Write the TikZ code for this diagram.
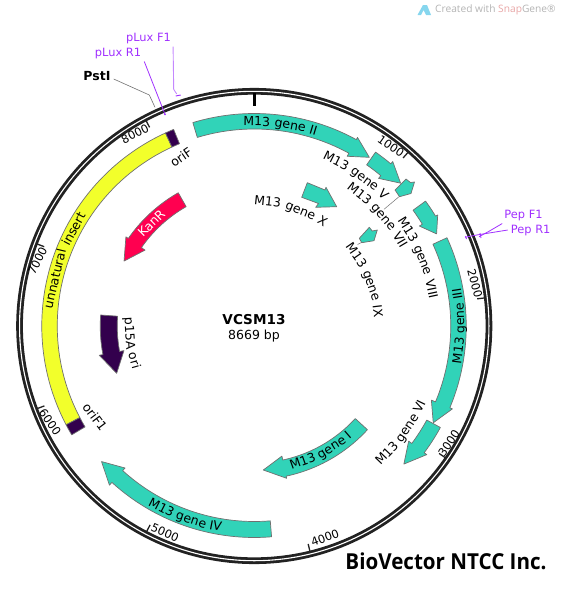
\documentclass[tikz,border=0pt]{standalone}
\usepackage{fontspec}
\setmainfont{DejaVu Sans}
\newfontfamily\bvfont{Open Sans}
\definecolor{teal1}{HTML}{31D3B8}
\definecolor{yell1}{HTML}{F2FF2B}
\definecolor{purp1}{HTML}{33004D}
\definecolor{kan1}{HTML}{FF0050}
\definecolor{ringc}{HTML}{222222}
\definecolor{outl}{HTML}{707070}
\definecolor{prim}{HTML}{A030FF}
\definecolor{priml}{HTML}{C488FF}
\definecolor{sgg}{HTML}{B4B4B4}
\definecolor{sgr}{HTML}{E8A6A6}
\definecolor{sgb}{HTML}{86D6EE}
\newcommand\lbl{\fontsize{12.5}{14}\selectfont}
\newcommand\smlbl{\fontsize{11.4}{13}\selectfont}
\tikzset{
  feat/.style={draw=outl,line width=0.7pt,line join=round},
  ticklbl/.style={inner sep=0pt,font=\smlbl,text=black},
  primlbl/.style={inner sep=1pt,font=\smlbl,text=prim},
  arcw/.style={inner sep=0pt,anchor=base,font=\lbl},
}
% style, a0, aN, aTip, rInner, rOuter, headInner, headOuter, rTip
\newcommand\farrow[9]{\path[feat,#1] plot[domain=#2:#3,samples=40] ({254.25+#6*sin(\x)},{326-#6*cos(\x)})
  -- ({254.25+#8*sin(#3)},{326-#8*cos(#3)})
  -- ({254.25+#9*sin(#4)},{326-#9*cos(#4)})
  -- ({254.25+#7*sin(#3)},{326-#7*cos(#3)})
  -- plot[domain=#3:#2,samples=40] ({254.25+#5*sin(\x)},{326-#5*cos(\x)}) -- cycle;}
% style, a0, a1, rInner, rOuter
\newcommand\fband[5]{\path[feat,#1] plot[domain=#2:#3,samples=60] ({254.25+#5*sin(\x)},{326-#5*cos(\x)})
  -- plot[domain=#3:#2,samples=60] ({254.25+#4*sin(\x)},{326-#4*cos(\x)}) -- cycle;}
% one word on an arc: name, radius, angle, direction (1 clockwise, -1 anticlockwise), colour, text
\newcommand\arcword[6]{\pgfmathsetmacro\wrot{#4>0 ? -(#3) : 180-(#3)}%
  \node[arcw,text=#5,rotate=\wrot] (#1) at ({254.25+#2*sin(#3)},{326-#2*cos(#3)}) {#6};}
% M13 gene <last>: name, radius, mid angle, direction, last word, width of last word
\newcommand\mlabel[6]{\pgfmathsetmacro\wL{65.9+#6}%
  \pgfmathsetmacro\aA{#3+#4*(13.35-\wL/2)/#2*57.296}%
  \pgfmathsetmacro\aB{#3+#4*(46.3-\wL/2)/#2*57.296}%
  \pgfmathsetmacro\aC{#3+#4*(65.9+#6/2-\wL/2)/#2*57.296}%
  \arcword{#1a}{#2}{\aA}{#4}{black}{M13}%
  \arcword{#1b}{#2}{\aB}{#4}{black}{gene}%
  \arcword{#1c}{#2}{\aC}{#4}{black}{#5}}
\newcommand\tickm[1]{\draw[ringc,line width=1.3pt] ({254.25+224.5*sin(#1)},{326-224.5*cos(#1)}) -- ({254.25+232*sin(#1)},{326-232*cos(#1)});}
\begin{document}
\begin{tikzpicture}[x=1pt,y=-1pt]
\useasboundingbox (0,0) rectangle (562,592);
% ring
\draw[ringc,line width=6.7pt] (254.25,326) circle[radius=234.7pt];
\draw[white,line width=1.1pt] (254.25,326) circle[radius=234.7pt];
\draw[black,line width=2.6pt] (254.25,93) -- (254.25,106);
\tickm{41.53}\tickm{83.05}\tickm{124.58}\tickm{166.11}\tickm{207.64}\tickm{249.16}\tickm{290.69}\tickm{332.22}
% tick labels
\node[ticklbl,rotate=-35] (t1) at (391,146) {1000};
\node[ticklbl,rotate=-75] (t2) at (475,283) {2000};
\node[ticklbl,rotate=56] (t3) at (449,443) {3000};
\node[ticklbl,rotate=20] (t4) at (325,538) {4000};
\node[ticklbl,rotate=-24] (t5) at (165,533) {5000};
\node[ticklbl,rotate=-55] (t6) at (50,422) {6000};
\node[ticklbl,rotate=63] (t7) at (37.5,261) {7000};
\node[ticklbl,rotate=27] (t8) at (135,134) {8000};
% features
\fband{fill=yell1}{-117.7}{-24.7}{197}{212.5}
\fband{fill=purp1}{-24.7}{-22.3}{197}{212.5}
\fband{fill=purp1}{-120.8}{-117.7}{197}{212.5}
\farrow{fill=teal1}{-16.8}{28.7}{34.3}{197}{212.5}{193.5}{215}{204.2}
\farrow{fill=teal1}{34.9}{40.1}{45.7}{196.5}{212}{193}{215}{204.5}
\farrow{fill=teal1}{53.9}{58.8}{63.2}{196.5}{212}{193}{214.5}{204.3}
\farrow{fill=teal1}{65.4}{112.7}{118.4}{196.5}{212}{192}{214.8}{203.5}
\farrow{fill=teal1}{118.6}{126.7}{132.7}{196.5}{212}{192.6}{215.2}{203.6}
\farrow{fill=teal1}{175.3}{222.3}{228.4}{195.5}{211.5}{192}{215.2}{204.2}
\farrow{fill=teal1}{132.5}{168}{176.4}{137}{153.5}{133}{155.7}{144.3}
\farrow{fill=kan1}{-29.7}{-55.2}{-63.5}{137.4}{153.4}{133}{156.3}{145.5}
\farrow{fill=purp1}{-85.9}{-100.7}{-109}{137}{154}{132.6}{157.7}{145.5}
% small hand-shaped features
\path[feat,fill=teal1] (395,190) -- (406,179) -- (410.5,182.5) -- (414.5,182) -- (411,193.5) -- (399.5,196.7) -- cycle;
\path[feat,fill=teal1] (359.3,238.3) -- (369.3,227.3) -- (372.3,231) -- (377.3,230) -- (374,240.7) -- (361.7,242.7) -- cycle;
\path[feat,fill=teal1] (307.3,182.7) -- (325,190) -- (326,187.3) -- (336.7,206.7) -- (315.7,207.3) -- (318.5,203.5) -- (301.7,197.3) -- cycle;
% arc labels, word by word
\mlabel{gii}{200}{7.4}{1}{II}{7.4}
\mlabel{gv}{180}{34}{1}{V}{8.55}
\mlabel{gvii}{165}{48}{1}{VII}{15.9}
\mlabel{gviii}{177}{67.5}{1}{VIII}{19.6}
\mlabel{gix}{120}{67.5}{1}{IX}{12.2}
\mlabel{gx}{120.5}{17.5}{1}{X}{8.56}
\mlabel{giii}{210}{90}{-1}{III}{11}
\mlabel{gvi}{188}{126}{-1}{VI}{12.2}
\mlabel{gi}{148}{152}{-1}{I}{3.7}
\mlabel{giv}{208}{200}{-1}{IV}{12.2}
\arcword{insA}{200.5}{-76.7}{1}{black}{unnatural}
\arcword{insB}{200.5}{-61.8}{1}{black}{insert}
\arcword{kan}{141}{-45}{1}{white}{KanR}
\arcword{pA}{129}{-93.5}{-1}{black}{p15A}
\arcword{pB}{129}{-106.1}{-1}{black}{ori}
% straight labels
\node[inner sep=0pt,font=\lbl,rotate=35] (oriFl) at (181,157) {oriF};
\node[inner sep=0pt,font=\lbl,rotate=-53] (oriFo) at (95,417) {oriF1};
\node[inner sep=0pt,font=\fontsize{13.6}{15}\selectfont\bfseries] (title) at (254,320) {VCSM13};
\node[inner sep=0pt,font=\lbl] (size) at (254,336) {8669 bp};
\node[inner sep=1pt,font=\lbl\bfseries] (psti) at (97,76) {PstI};
\node[primlbl] (pluxf) at (148.5,39) {pLux F1};
\node[primlbl] (pluxr) at (118,54) {pLux R1};
\node[primlbl] (pepf) at (523.5,216) {Pep F1};
\node[primlbl] (pepr) at (530.7,231) {Pep R1};
\node[inner sep=0pt,font=\bvfont\bfseries\fontsize{22}{24}\selectfont] (bv) at (446,561) {\scalebox{0.935}[1]{BioVector NTCC Inc.}};
\node[inner sep=0pt,anchor=west,font=\bvfont\fontsize{10.2}{12}\selectfont,text=sgg] (sg) at (435,10) {Created with \textcolor{sgr}{Snap}Gene®};
% logo
\fill[sgb] (417.5,15) -- (423,5) -- (427,5) -- (431,15) -- (426,15) -- (423.5,10) -- (421,15) -- cycle;
% leaders
\coordinate (gviiA) at (399,196.7);
\coordinate (gviiB) at (384,209.3);
\draw[outl,line width=0.5pt] (gviiA) -- (gviiB);
\coordinate (gixA) at (361,242.7);
\coordinate (gixB) at (357.5,244.5);
\draw[outl,line width=0.5pt] (gixA) -- (gixB);
\coordinate (pstiB) at (149.3,95);
\coordinate (pstiC) at (155,107.3);
\draw[outl,line width=0.6pt] (psti.east) ++(2,3) -- (pstiB) -- (pstiC);
\coordinate (pfB) at (173.7,89.3);
\coordinate (pfC) at (176.7,94);
\coordinate (pfD) at (175.7,96);
\coordinate (pfE) at (180.7,95);
\draw[priml,line width=0.9pt] (pluxf.south east) ++(1,1) -- (pfB) -- (pfC);
\draw[prim,line width=0.9pt] (pfD) -- (pfE);
\coordinate (prB) at (165,114.3);
\draw[prim,line width=0.8pt] (pluxr.south east) ++(2,1) -- (prB);
\fill[prim] (prB) circle[radius=1pt];
\coordinate (pepfB) at (488.3,231.7);
\coordinate (pepfC) at (479,236.7);
\coordinate (pepfD) at (480,233);
\coordinate (pepfE) at (481,238);
\draw[prim,line width=0.8pt] (pepf.south west) ++(-1,1) -- (pepfB) -- (pepfC);
\draw[prim,line width=0.8pt] (pepfD) -- (pepfE);
\coordinate (peprB) at (476.7,235);
\coordinate (peprC) at (465,237.3);
\coordinate (peprD) at (465.5,236);
\coordinate (peprE) at (466.5,239);
\draw[prim,line width=0.8pt] (pepr.west) ++(-2,-1) -- (peprB) -- (peprC);
\draw[prim,line width=0.8pt] (peprD) -- (peprE);
\end{tikzpicture}
\end{document}
